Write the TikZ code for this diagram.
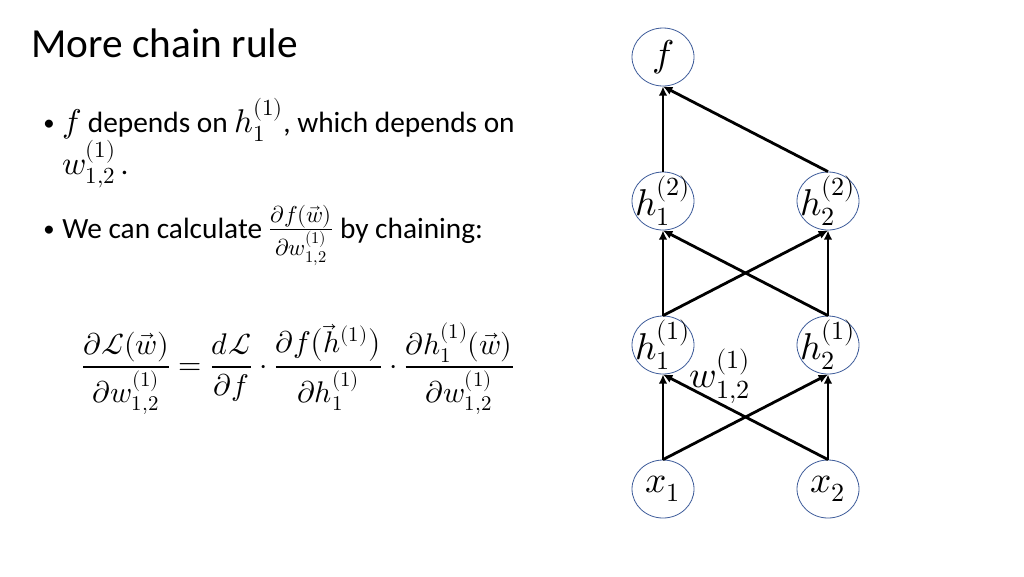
\documentclass[tikz,border=0pt]{standalone}
\usepackage{amsmath}
\usepackage{fontspec}
\usepackage{unicode-math}
\setmainfont{Carlito}
\setmathfont{Latin Modern Math}[Scale=1.12]
\usetikzlibrary{arrows.meta,shapes.geometric}
\definecolor{ringcol}{HTML}{3E5C9A}
\tikzset{
  unit/.style={ellipse,draw=ringcol,line width=0.6pt,fill=white,minimum width=46.5pt,minimum height=43.5pt,inner sep=0pt},
  unittext/.style={label={[inner sep=0pt,font=\fontsize{25}{29}\selectfont]center:#1}},
  conn/.style={line width=2.1pt,-{Latex[length=7pt,width=6.5pt]}},
  body/.style={font=\fontsize{22}{26}\selectfont,inner sep=0pt},
  dot/.style={font=\fontsize{17}{20}\selectfont,inner sep=0pt},
}
\begin{document}
\begin{tikzpicture}[x=0.75pt,y=-0.75pt]
\useasboundingbox (0,0) rectangle (1024,576);
\fill[white] (0,0) rectangle (1024,576);
% title
\node[anchor=base west,inner sep=0pt,font=\fontsize{31}{36}\selectfont] (title) at (31,57) {More chain rule};
% bullets
\node[dot,anchor=base west] (b1) at (43,130) {\textbullet};
\node[body,anchor=base west] (l1) at (62,132) {$f$ depends on $h_1^{(1)}$, which depends on};
\node[body,anchor=base west] (l2) at (62,174) {$w_{1,2}^{(1)}$\,.};
\node[dot,anchor=base west] (b2) at (43,236) {\textbullet};
\node[body,anchor=base west] (l3) at (62,238) {We can calculate $\frac{\partial f(\vec{w})}{\partial w_{1,2}^{(1)}}$ by chaining:};
% equation
\node[inner sep=0pt,font=\fontsize{20}{24}\selectfont] (eq) at (298,369) {$\displaystyle \frac{\partial\mathcal{L}(\vec{w})}{\partial w_{1,2}^{(1)}} = \frac{d\mathcal{L}}{\partial f}\cdot\frac{\partial f\bigl(\vec{h}^{(1)}\bigr)}{\partial h_1^{(1)}}\cdot\frac{\partial h_1^{(1)}(\vec{w})}{\partial w_{1,2}^{(1)}}$};
% network
\node[unit,unittext={$f$}] (f) at (663,57) {};
\node[unit,unittext={$h_1^{(2)}$}] (h12) at (663,201) {};
\node[unit,unittext={$h_2^{(2)}$}] (h22) at (828,201) {};
\node[unit,unittext={$h_1^{(1)}$}] (h11) at (663,345) {};
\node[unit,unittext={$h_2^{(1)}$}] (h21) at (828,345) {};
\node[unit,unittext={$x_1$}] (x1) at (663,489) {};
\node[unit,unittext={$x_2$}] (x2) at (828,489) {};
\draw[conn] (x1.north) -- (h11.south);
\draw[conn] (x1.north) -- (h21.south);
\draw[conn] (x2.north) -- (h11.south);
\draw[conn] (x2.north) -- (h21.south);
\draw[conn] (h11.north) -- (h12.south);
\draw[conn] (h11.north) -- (h22.south);
\draw[conn] (h21.north) -- (h12.south);
\draw[conn] (h21.north) -- (h22.south);
\draw[conn] (h12.north) -- (f.south);
\draw[conn] (h22.north) -- (f.south);
\node[inner sep=0pt,font=\fontsize{25}{29}\selectfont] (wlab) at (720,376) {$w_{1,2}^{(1)}$};
\end{tikzpicture}
\end{document}
